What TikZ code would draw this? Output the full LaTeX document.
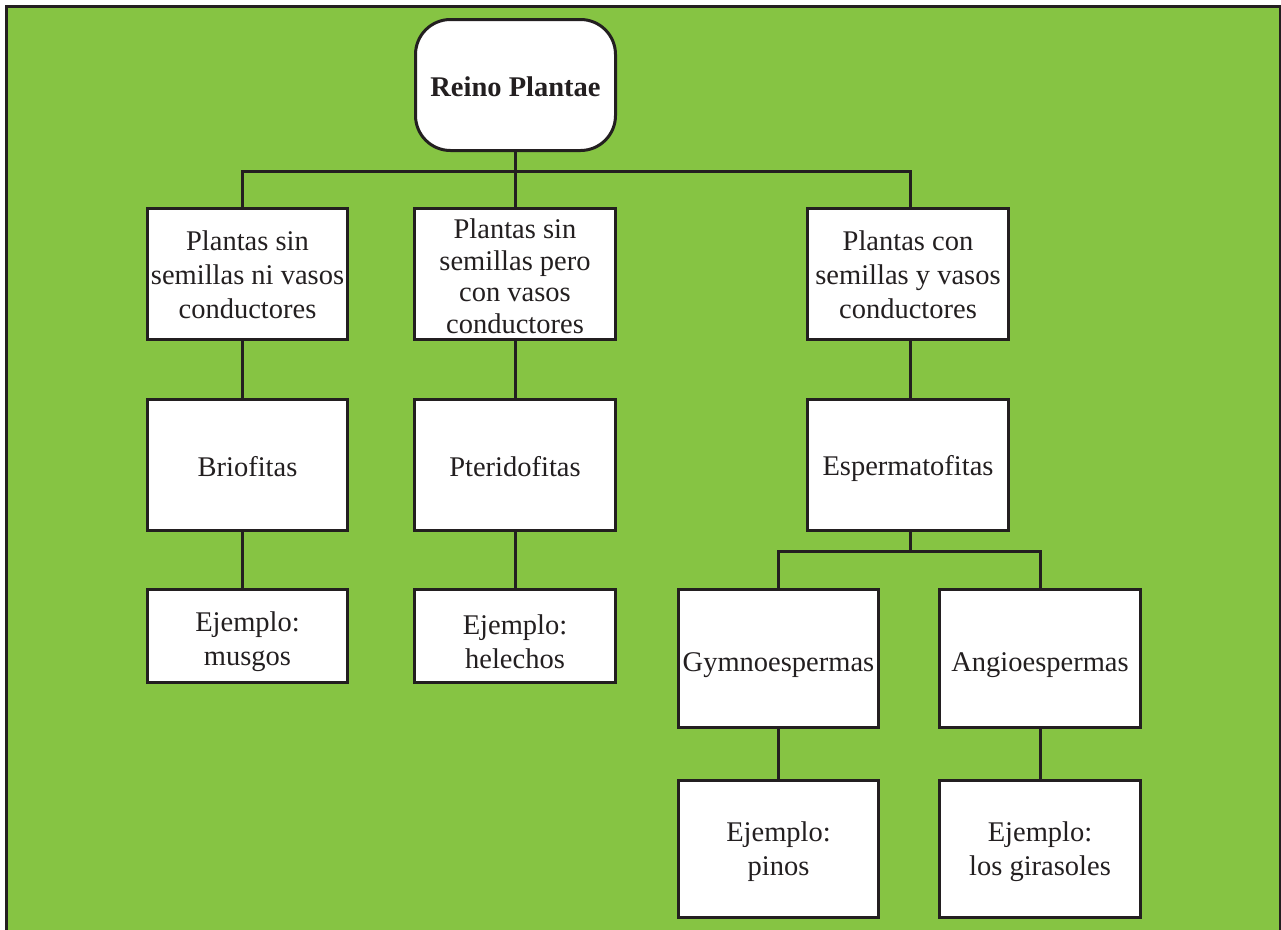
\documentclass[tikz,border=0pt]{standalone}
\usepackage{fontspec}
\setmainfont{Liberation Serif}
\definecolor{leaf}{RGB}{134,196,67}
\definecolor{ink}{RGB}{35,31,32}
\begin{document}
\begin{tikzpicture}[x=1pt,y=-1pt,
  box/.style={draw=ink, line width=3pt, fill=white, rectangle, inner sep=0pt},
  txt/.style={inner sep=0pt, align=center, text=ink, font=\fontsize{28.5}{34}\selectfont},
  link/.style={draw=ink, line width=3pt}]
\useasboundingbox (0,0) rectangle (1281,929);
\fill[white] (0,0) rectangle (1281,929);
\draw[draw=ink, line width=3pt, fill=leaf] (6,6) rectangle (1280,945);

% boxes
\node[box, rounded corners=35pt, minimum width=200pt, minimum height=131pt] (root) at (515.5,85) {};
\node[box, minimum width=200pt, minimum height=131pt] (b1) at (247.5,274) {};
\node[box, minimum width=201pt, minimum height=131pt] (b2) at (515,274) {};
\node[box, minimum width=201pt, minimum height=131pt] (b3) at (908,274) {};
\node[box, minimum width=200pt, minimum height=131pt] (c1) at (247.5,465) {};
\node[box, minimum width=201pt, minimum height=131pt] (c2) at (515,465) {};
\node[box, minimum width=201pt, minimum height=131pt] (c3) at (908,465) {};
\node[box, minimum width=200pt, minimum height=93pt] (e1) at (247.5,636) {};
\node[box, minimum width=201pt, minimum height=93pt] (e2) at (515,636) {};
\node[box, minimum width=200pt, minimum height=138pt] (g) at (778.5,658.5) {};
\node[box, minimum width=201pt, minimum height=138pt] (a) at (1040,658.5) {};
\node[box, minimum width=200pt, minimum height=137pt] (ep) at (778.5,849) {};
\node[box, minimum width=201pt, minimum height=137pt] (ea) at (1040,849) {};

% texts
\node[txt, font=\fontsize{28.5}{34}\selectfont\bfseries] (troot) at ([yshift=-2pt]root.center) {Reino Plantae};
\node[txt] (tb1) at ([yshift=-1pt]b1.center) {Plantas sin\\semillas ni vasos\\conductores};
\node[txt, font=\fontsize{28.5}{31.5}\selectfont] (tb2) at ([yshift=-2pt]b2.center) {Plantas sin\\semillas pero\\con vasos\\conductores};
\node[txt] (tb3) at ([yshift=-1pt]b3.center) {Plantas con\\semillas y vasos\\conductores};
\node[txt] (tc1) at ([yshift=-2pt]c1.center) {Briofitas};
\node[txt] (tc2) at ([yshift=-2pt]c2.center) {Pteridofitas};
\node[txt] (tc3) at ([yshift=-3pt]c3.center) {Espermatofitas};
\node[txt] (te1) at ([yshift=-6pt]e1.center) {Ejemplo:\\musgos};
\node[txt] (te2) at ([yshift=-6pt]e2.center) {Ejemplo:\\helechos};
\node[txt] (tg) at ([yshift=-7pt]g.center) {Gymnoespermas};
\node[txt] (ta) at ([yshift=-7pt]a.center) {Angioespermas};
\node[txt] (tep) at ([yshift=-3pt]ep.center) {Ejemplo:\\pinos};
\node[txt] (tea) at ([yshift=-3pt]ea.center) {Ejemplo:\\los girasoles};

\coordinate (h1) at (0,171);
\coordinate (h2) at (0,551);
\coordinate (k1) at ([xshift=-5.5pt]b1.north);
\coordinate (k3) at ([xshift=2pt]b3.north);

% connectors
\draw[link] (root.south) -- (root.south |- h1);
\draw[link] (k1) |- (k3 |- h1) -- (k3);
\draw[link] (b2.north) -- (b2.north |- h1);

\draw[link] ([xshift=-5.5pt]b1.south) -- ([xshift=-5.5pt]c1.north);
\draw[link] (b2.south) -- (c2.north);
\draw[link] ([xshift=2pt]b3.south) -- ([xshift=2pt]c3.north);

\draw[link] ([xshift=-5.5pt]c1.south) -- ([xshift=-5.5pt]e1.north);
\draw[link] (c2.south) -- (e2.north);

\draw[link] ([xshift=2pt]c3.south) -- ([xshift=2pt]c3.south |- h2);
\draw[link] (g.north) |- (a.north |- h2) -- (a.north);

\draw[link] (g.south) -- (ep.north);
\draw[link] (a.south) -- (ea.north);
\end{tikzpicture}
\end{document}
